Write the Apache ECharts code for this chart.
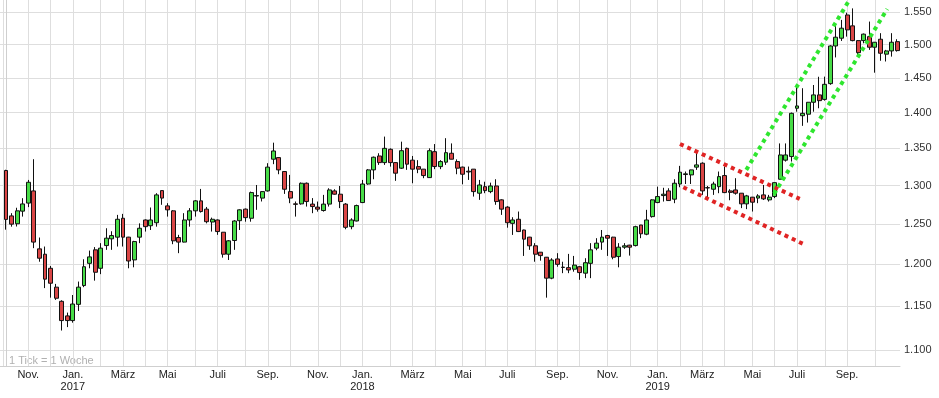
<!DOCTYPE html>
<html><head><meta charset="utf-8">
<script src="https://cdn.jsdelivr.net/npm/echarts@6/dist/echarts.min.js"></script>
<style>html,body{margin:0;padding:0;background:#fff}#c{width:939px;height:398px}</style>
</head><body><div id="c"></div>
<script>
// weekly candles, first week starting Monday 2016-10-10
const firstWeek = '2016-10-10';
const weekCount = 161;
const open = [1.320,1.2605,1.2505,1.2666,1.277,1.2929,1.219,1.2124,1.1952,1.1725,
1.1558,1.1388,1.1334,1.1522,1.1744,1.2012,1.2178,1.1952,1.2231,1.2315,
1.2336,1.2575,1.2336,1.2054,1.2336,1.2553,1.248,1.2518,1.2933,1.2734,
1.267,1.2331,1.2274,1.2553,1.267,1.2799,1.2692,1.2527,1.2553,1.2398,
1.2124,1.2294,1.2544,1.2692,1.2575,1.2862,1.2835,1.2929,1.3352,1.3374,
1.3186,1.292,1.2760,1.276,1.303,1.2757,1.2718,1.2674,1.2757,1.2929,
1.2886,1.2757,1.2468,1.254,1.2777,1.302,1.3208,1.3396,1.3306,1.3487,
1.3306,1.3231,1.35,1.3339,1.3252,1.3218,1.3105,1.3455,1.3252,1.3312,
1.3433,1.332,1.3245,1.3190,1.3218,1.2899,1.2985,1.292,1.2994,1.2812,
1.2718,1.251,1.2562,1.2426,1.2336,1.2228,1.2149,1.2087,1.1833,1.2066,
1.1966,1.196,1.1941,1.1971,1.1893,1.2012,1.2199,1.2274,1.2356,1.2336,
1.2095,1.2211,1.2236,1.2231,1.2489,1.2373,1.2596,1.2777,1.2868,1.2929,
1.2821,1.302,1.3146,1.3141,1.3245,1.3298,1.2972,1.2951,1.2985,1.3132,
1.2929,1.2942,1.2899,1.276,1.2847,1.2835,1.2877,1.2812,1.2855,1.3083,
1.3339,1.3388,1.4061,1.3955,1.3976,1.4147,1.4253,1.4188,1.4417,1.4979,
1.5098,1.5458,1.5288,1.5061,1.5061,1.5122,1.496,1.5082,1.4855,1.4904,
1.5045];
const close = [1.256,1.250,1.267,1.2759,1.3043,1.2274,1.2075,1.1821,1.1772,1.1594,
1.1334,1.1334,1.1526,1.1725,1.1971,1.2091,1.1904,1.2199,1.2323,1.2356,
1.2562,1.2336,1.2041,1.2281,1.2448,1.2468,1.2553,1.2877,1.2835,1.2683,
1.229,1.2274,1.2553,1.267,1.2799,1.2661,1.2531,1.2562,1.2406,1.2124,
1.229,1.254,1.2683,1.2583,1.2907,1.2868,1.292,1.3245,1.3464,1.3208,
1.2951,1.2835,1.2754,1.303,1.279,1.2725,1.2692,1.2757,1.2942,1.2886,
1.279,1.246,1.2553,1.2738,1.302,1.3208,1.3379,1.3306,1.35,1.3306,
1.3164,1.3468,1.3285,1.3218,1.3218,1.3132,1.3468,1.3253,1.332,1.3441,
1.3352,1.3231,1.315,1.3180,1.292,1.3007,1.2933,1.2994,1.279,1.2692,
1.2518,1.2553,1.2406,1.2311,1.2228,1.2124,1.2107,1.1833,1.2053,1.200,
1.1962,1.1932,1.1991,1.190,1.202,1.2178,1.2261,1.2336,1.2323,1.2087,
1.2211,1.2228,1.2211,1.2468,1.2378,1.2553,1.2812,1.2855,1.2886,1.2803,
1.303,1.3177,1.3155,1.3208,1.3275,1.2929,1.2968,1.302,1.3118,1.2907,
1.291,1.2899,1.276,1.2864,1.2782,1.2864,1.2825,1.2847,1.3038,1.341,
1.341,1.3989,1.4094,1.3989,1.4147,1.4253,1.417,1.4407,1.4979,1.5113,
1.5252,1.5226,1.5061,1.4878,1.516,1.496,1.5036,1.4869,1.4904,1.5036,
1.4909];
const low = [1.243,1.2468,1.247,1.2596,1.2718,1.2199,1.2032,1.1714,1.1601,1.1574,
1.122,1.1259,1.131,1.1445,1.1725,1.1952,1.1803,1.1881,1.2178,1.2178,
1.2219,1.2219,1.1952,1.1964,1.2261,1.2406,1.2426,1.2468,1.2748,1.2596,
1.2248,1.2137,1.227,1.2468,1.2596,1.2648,1.251,1.2406,1.2365,1.2082,
1.2053,1.2178,1.2426,1.2531,1.2531,1.2683,1.2791,1.292,1.3285,1.315,
1.289,1.2769,1.2596,1.275,1.2725,1.264,1.266,1.266,1.2725,1.288,
1.2705,1.2435,1.2435,1.2535,1.277,1.301,1.3083,1.3275,1.3275,1.3252,
1.3062,1.322,1.3208,1.303,1.3164,1.3097,1.310,1.3218,1.3218,1.3275,
1.335,1.315,1.3016,1.3074,1.2855,1.2812,1.2899,1.2899,1.2748,1.2618,
1.2455,1.2364,1.240,1.2103,1.2178,1.2032,1.2045,1.1601,1.182,1.1971,
1.1893,1.1893,1.1911,1.1813,1.1833,1.1833,1.2173,1.2178,1.2103,1.2062,
1.1964,1.219,1.2107,1.222,1.2323,1.236,1.2583,1.2769,1.279,1.280,
1.2769,1.2977,1.302,1.302,1.3208,1.2877,1.2835,1.2877,1.2899,1.290,
1.2807,1.288,1.2705,1.2692,1.2661,1.2769,1.281,1.2790,1.2835,1.308,
1.332,1.332,1.4012,1.3812,1.3858,1.4012,1.4061,1.417,1.440,1.4806,
1.5056,1.5122,1.505,1.4818,1.502,1.492,1.4578,1.4756,1.4745,1.4818,
1.4894];
const high = [1.321,1.264,1.271,1.2834,1.3074,1.3352,1.2331,1.2219,1.198,1.1764,
1.157,1.1426,1.1632,1.1792,1.2062,1.2169,1.2212,1.2261,1.2448,1.241,
1.2618,1.2631,1.234,1.229,1.251,1.256,1.2713,1.2899,1.2935,1.2769,
1.268,1.2365,1.264,1.2705,1.281,1.2955,1.272,1.2583,1.256,1.240,
1.230,1.255,1.269,1.270,1.292,1.3007,1.2925,1.3298,1.3578,1.338,
1.319,1.3141,1.2791,1.304,1.304,1.2835,1.279,1.2877,1.2964,1.2951,
1.2994,1.277,1.2575,1.275,1.3074,1.322,1.3388,1.3433,1.3662,1.350,
1.331,1.3592,1.351,1.3396,1.3339,1.322,1.35,1.3559,1.3339,1.364,
1.3568,1.335,1.3252,1.3253,1.322,1.3074,1.305,1.3038,1.3083,1.282,
1.273,1.2588,1.2661,1.243,1.234,1.2261,1.215,1.209,1.2075,1.2137,
1.2032,1.2128,1.2103,1.198,1.2075,1.2261,1.2323,1.2426,1.2365,1.234,
1.2261,1.2261,1.224,1.248,1.249,1.2683,1.282,1.2985,1.297,1.2964,
1.3083,1.3262,1.3186,1.321,1.3477,1.331,1.2994,1.305,1.3186,1.3253,
1.2951,1.3097,1.290,1.2877,1.285,1.2886,1.3007,1.2877,1.304,1.3568,
1.3568,1.400,1.4383,1.435,1.415,1.4397,1.4518,1.452,1.499,1.5319,
1.5381,1.5494,1.5562,1.507,1.517,1.5355,1.504,1.5175,1.492,1.5175,
1.5082];
const yTicks = [1.10,1.15,1.20,1.25,1.30,1.35,1.40,1.45,1.50,1.55];
const monthNames = ['Jan.','Feb.','März','Apr.','Mai','Juni','Juli','Aug.','Sep.','Okt.','Nov.','Dez.'];
// trend channels: [week index, price]
const redUpper = [[121.0,1.356],[142.5,1.2825]];
const redLower = [[121.6,1.2977],[143.1,1.2252]];
const greenLeft = [[132.9,1.3208],[151.2,1.5664]];
const greenRight = [[137.9,1.289],[158.2,1.5551]];

const weeks = [];
{ const d0 = new Date(firstWeek + 'T00:00:00Z');
  for (let i = 0; i < weekCount; i++) weeks.push(new Date(d0.getTime() + i * 7 * 86400000)); }
const monthStarts = [-0.48];
for (let i = 1; i < weeks.length - 1; i++) {
  if (weeks[i].getUTCMonth() !== weeks[i-1].getUTCMonth()) monthStarts.push(i);
}
const labelStarts = monthStarts.filter(i => i >= 0 && weeks[i].getUTCMonth() % 2 === 0 && i < 158);
const candles = weeks.map((d, i) => [i, open[i], close[i], low[i], high[i]]);

const RED = '#e02424', GREEN = '#2ee62e';
function tl(pts, color) {
  return [{coord: pts[0], lineStyle: {color: color, width: 4, type: [4, 4], cap: 'butt'}}, {coord: pts[1]}];
}

const chart = echarts.init(document.getElementById('c'), null, {renderer: 'canvas'});
chart.setOption({
  animation: false,
  backgroundColor: '#fff',
  textStyle: {fontFamily: 'Liberation Sans, Arial, sans-serif'},
  grid: {left: 0, top: 0, right: 39, bottom: 32, containLabel: false},
  xAxis: {
    type: 'value', min: -1.077, max: 160.5,
    axisLine: {show: true, onZero: false, lineStyle: {color: '#cfcfcf'}},
    axisTick: {show: false, customValues: monthStarts},
    axisLabel: {
      customValues: labelStarts, color: '#222', fontSize: 11, margin: 3, lineHeight: 12,
      formatter: function (v) {
        const d = weeks[Math.round(v)]; const m = d.getUTCMonth();
        return m === 0 ? monthNames[m] + '\n' + d.getUTCFullYear() : monthNames[m];
      }
    },
    splitLine: {show: true, lineStyle: {color: '#dedede', width: 1}}
  },
  yAxis: {
    type: 'log', logBase: 10, min: 1.0823, max: 1.5695, position: 'right',
    axisLine: {show: true, lineStyle: {color: '#cfcfcf'}},
    axisTick: {show: false, customValues: yTicks},
    axisLabel: {customValues: yTicks, color: '#333', fontSize: 11, margin: 4,
      formatter: v => (+v).toFixed(3)},
    splitLine: {show: true, lineStyle: {color: '#dedede', width: 1}}
  },
  graphic: [{type: 'text', left: 9, top: 355, style: {text: '1 Tick = 1 Woche', fill: '#b0b0b0', font: '11px Liberation Sans, Arial, sans-serif'}}],
  series: [{
    type: 'candlestick',
    data: candles,
    encode: {x: 0, y: [1, 2, 3, 4]},
    barWidth: 4.4,
    itemStyle: {color: '#47dc47', color0: '#d94545', borderColor: '#111', borderColor0: '#111', borderWidth: 1},
    markLine: {
      silent: true, symbol: ['none', 'none'], label: {show: false}, animation: false,
      data: [tl(redUpper, RED), tl(redLower, RED), tl(greenLeft, GREEN), tl(greenRight, GREEN)]
    }
  }]
});
</script></body></html>
